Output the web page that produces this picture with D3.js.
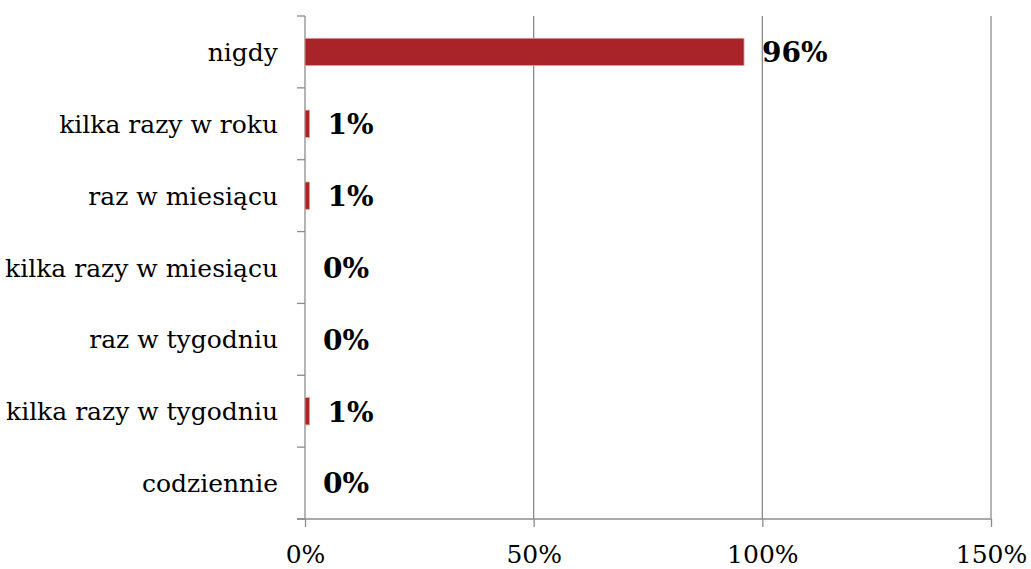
<!DOCTYPE html>
<html>
<head>
<meta charset="utf-8">
<script src="https://cdn.jsdelivr.net/npm/d3@7"></script>
<style>
html,body{margin:0;padding:0;background:#fff;}
svg{display:block;}
</style>
</head>
<body>
<svg id="chart" width="1031" height="569"></svg>
<script>
const categories = ["nigdy","kilka razy w roku","raz w miesiącu","kilka razy w miesiącu","raz w tygodniu","kilka razy w tygodniu","codziennie"];
const values = [0.96, 0.01, 0.01, 0, 0, 0.01, 0];
const valueLabels = ["96%","1%","1%","0%","0%","1%","0%"];
const xTicks = [0, 0.5, 1, 1.5];
const xTickLabels = ["0%","50%","100%","150%"];

const svg = d3.select("#chart");
const mLeft = 305, mRight = 991, mTop = 16, mBottom = 519;
const x = d3.scaleLinear().domain([0, 1.5]).range([mLeft, mRight]);
const y = d3.scaleBand().domain(categories).range([mTop, mBottom]).paddingInner(0.62).paddingOuter(0.31);

const gridColor = "#8c8c8c";
// gridlines
svg.append("g").selectAll("line").data(xTicks.slice(1)).join("line")
  .attr("x1", d => x(d)).attr("x2", d => x(d))
  .attr("y1", mTop).attr("y2", mBottom)
  .attr("stroke", gridColor).attr("stroke-width", 1.3);

// x axis
const xAxis = d3.axisBottom(x).tickValues(xTicks).tickFormat((d,i) => xTickLabels[i]).tickSize(8).tickSizeOuter(0);
const gx = svg.append("g").attr("transform", `translate(0,${mBottom})`).call(xAxis);
gx.select(".domain").attr("stroke", gridColor).attr("stroke-width", 1.3).attr("d", `M${mLeft-8},0H${mRight}`);
gx.selectAll(".tick line").attr("stroke", gridColor).attr("stroke-width", 1.3);
gx.selectAll(".tick text").attr("font-family", "DejaVu Serif").attr("font-size", 25).attr("fill", "#000").attr("dy", null).attr("y", 44);

// y axis
const gy = svg.append("g");
gy.append("line").attr("x1", mLeft).attr("x2", mLeft).attr("y1", mTop).attr("y2", mBottom).attr("stroke", gridColor).attr("stroke-width", 1.3);
gy.selectAll("line.tk").data(d3.range(categories.length + 1)).join("line").attr("class","tk")
  .attr("x1", mLeft - 8).attr("x2", mLeft)
  .attr("y1", i => mTop + i*y.step()).attr("y2", i => mTop + i*y.step())
  .attr("stroke", gridColor).attr("stroke-width", 1.3);
gy.selectAll("text").data(categories).join("text")
  .attr("x", mLeft - 27).attr("y", d => y(d) + y.bandwidth()/2)
  .attr("dy", "0.36em").attr("text-anchor", "end")
  .attr("font-family", "DejaVu Serif").attr("font-size", 25).attr("fill", "#000")
  .text(d => d);

// bars
svg.append("g").selectAll("rect").data(categories).join("rect")
  .attr("x", x(0)).attr("y", (d) => y(d))
  .attr("width", (d,i) => x(values[i]) - x(0))
  .attr("height", y.bandwidth())
  .attr("fill", "#A92428").attr("stroke", "#e3a0a0").attr("stroke-width", (d,i) => values[i] > 0 ? 0.8 : 0);

// value labels
svg.append("g").selectAll("text").data(categories).join("text")
  .attr("x", (d,i) => x(values[i]) + 18).attr("y", d => y(d) + y.bandwidth()/2)
  .attr("dy", "0.37em")
  .attr("font-family", "DejaVu Serif").attr("font-weight", "bold").attr("font-size", 28).attr("fill", "#000")
  .text((d,i) => valueLabels[i]);
</script>
</body>
</html>
